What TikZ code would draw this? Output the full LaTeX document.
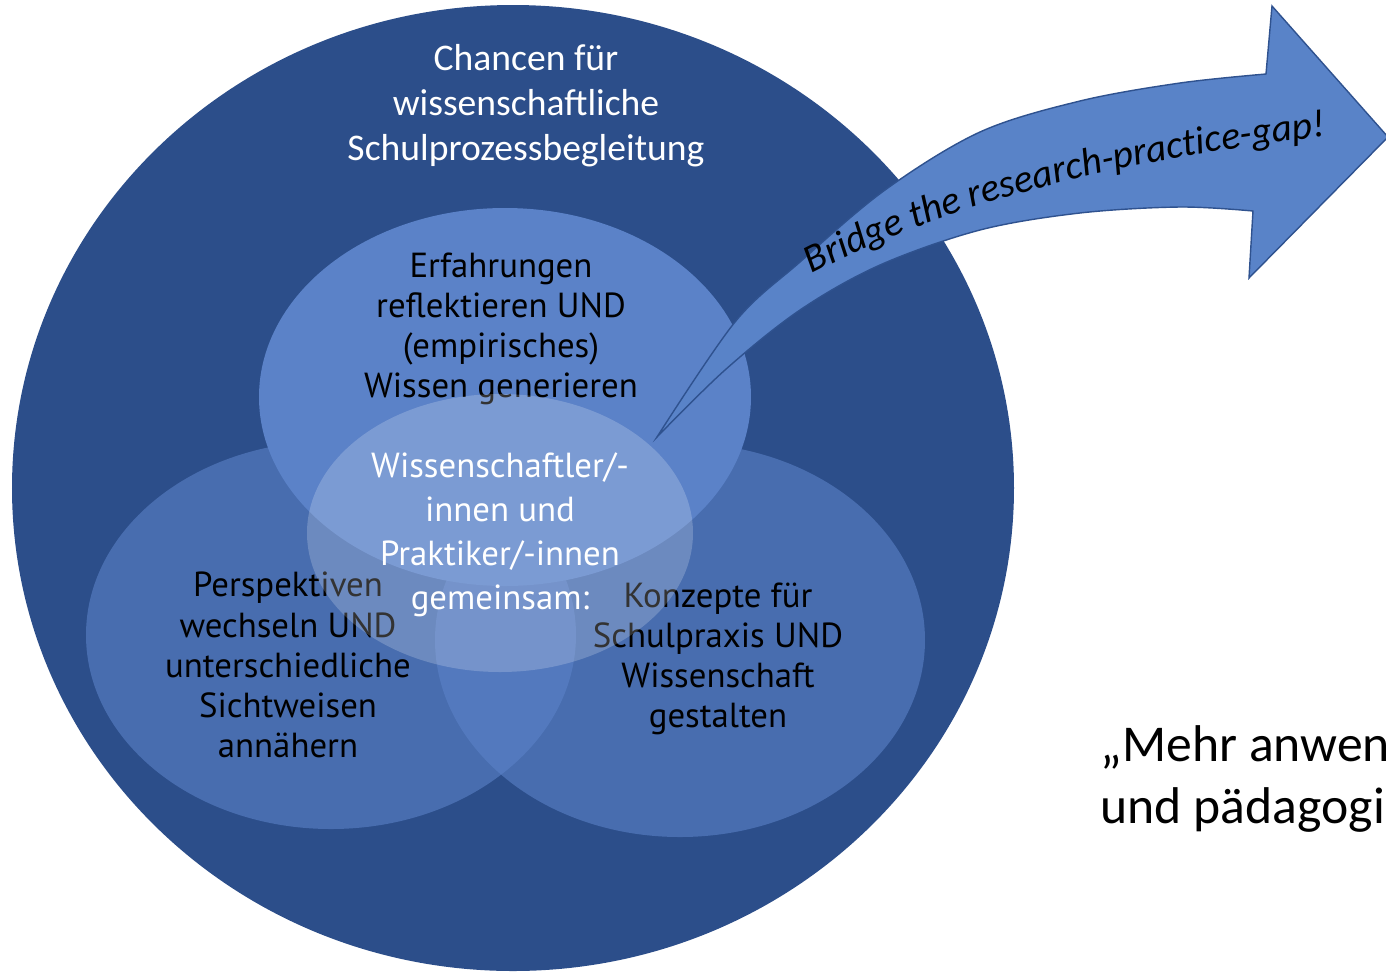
\documentclass[tikz,border=0pt]{standalone}
\usepackage{fontspec}
\setmainfont{Carlito}
\newfontfamily\vennfont{PT Sans}
\usetikzlibrary{decorations.text}
\definecolor{kreisdunkel}{RGB}{44,78,138}
\definecolor{kreismittel}{RGB}{91,130,200}
\definecolor{pfeilblau}{RGB}{89,131,200}
\definecolor{pfeilrand}{RGB}{47,82,143}

\begin{document}
\begin{tikzpicture}[x=0.1mm, y=-0.1mm]
	\useasboundingbox (0,0) rectangle (1386,971);
	\begin{scope}
		\clip (0,0) rectangle (1386,971);
		\fill[kreisdunkel] (513,488) ellipse [x radius=501, y radius=483];
		\begin{scope}[fill opacity=0.6]
			\fill[kreismittel] (331,635) ellipse [x radius=245, y radius=194];
			\fill[kreismittel] (680,640) ellipse [x radius=245, y radius=197];
		\end{scope}
		\fill[kreismittel] (505,397) ellipse [x radius=246, y radius=189];

		\begin{scope}[every node/.style = {align=center, font=\vennfont\fontsize{9.9}{11.4}\selectfont}]
			\node (erfahrung) at (501,329) {Erfahrungen\\reflektieren UND\\(empirisches)\\Wissen generieren};
			\node (perspektive) at (288,665) {Perspektiven\\wechseln UND\\unterschiedliche\\Sichtweisen\\annähern};
			\node (konzepte) at (718,659) {Konzepte für\\Schulpraxis UND\\Wissenschaft\\gestalten};
		\end{scope}

		\fill[white, fill opacity=0.2] (500,533) ellipse [x radius=193, y radius=139];
		\node (gemeinsam) [white, align=center, font=\vennfont\fontsize{9.9}{12.5}\selectfont] at (500,535) {Wissenschaftler/-\\innen und\\Praktiker/-innen\\gemeinsam:};
		\node (titel) [white, align=center, font=\fontsize{10.7}{12.8}\selectfont] at (526,106) {Chancen für\\wissenschaftliche\\Schulprozessbegleitung};

		\draw[pfeilrand, fill=pfeilblau, line width=0.4pt] plot[smooth, tension=0.55] coordinates {(657,437) (735,322) (800,262) (885,190) (980,132) (1080,101) (1180,83) (1266,74)}
			-- (1272,6) -- (1388,137) -- (1249,278)
			-- plot[smooth, tension=0.55] coordinates {(1253,211) (1180,207) (1080,213) (980,230) (880,265) (800,310) (725,370) (657,437)} -- cycle;
		\path[decorate, decoration={text along path, text={|\itshape\fontsize{11.2}{13}\selectfont|Bridge the research-practice-gap!}}]
			(812,274) .. controls (930,212) and (1100,158) .. (1370,132);

		\node (zitat) [anchor=west, inner sep=0pt, align=left, font=\fontsize{14.7}{17.9}\selectfont] at (1100,779) {„Mehr anwen\\und pädagogi};
	\end{scope}
\end{tikzpicture}
\end{document}
